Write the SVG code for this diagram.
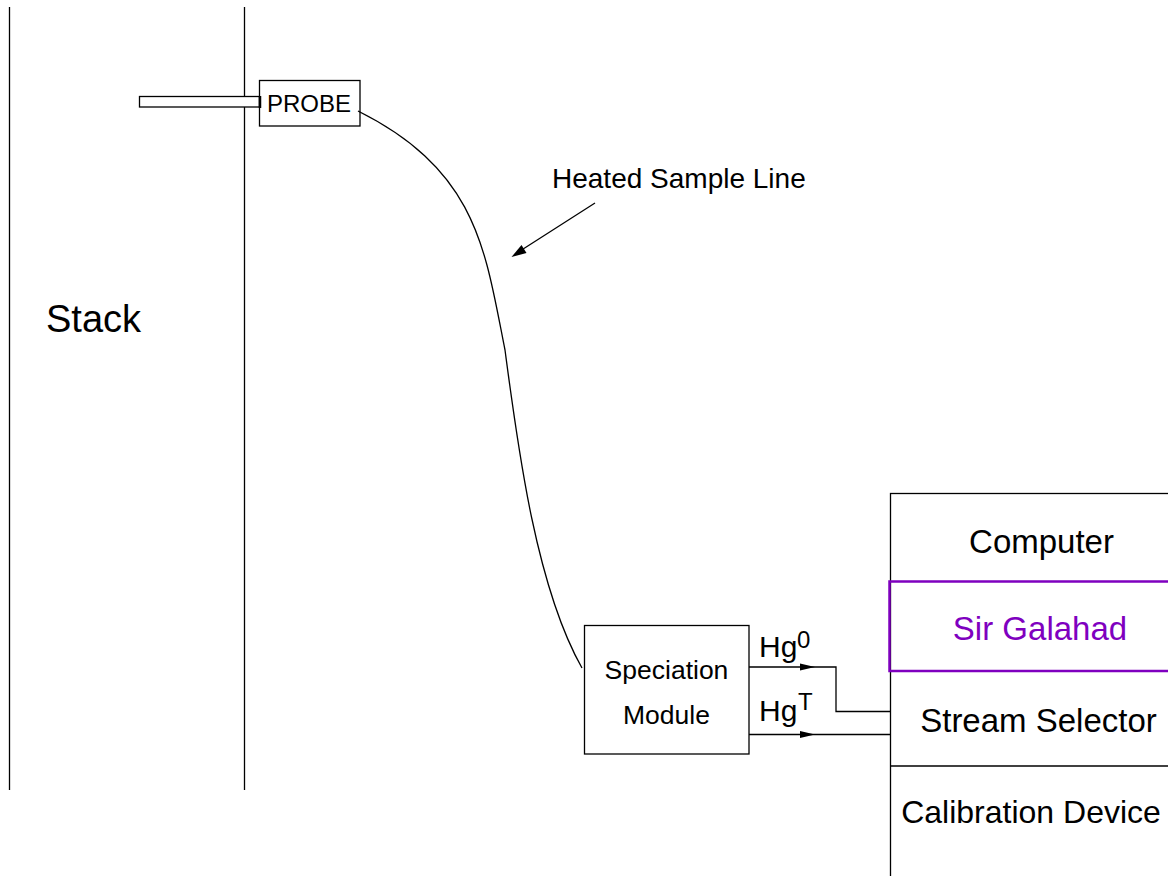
<svg xmlns="http://www.w3.org/2000/svg" width="1168" height="876" viewBox="0 0 1168 876">
<style>
.ln{fill:none;stroke:#000;stroke-width:1.3}
.bx{fill:#fff;stroke:#000;stroke-width:1.3}
.t{font-family:"Liberation Sans",Arial,sans-serif;fill:#000}
.ah{fill:#000;stroke:none}
</style>
<rect width="1168" height="876" fill="#fff"/>
<g id="stack">
<line class="ln" x1="9.5" y1="7" x2="9.5" y2="790"/>
<line class="ln" x1="244.5" y1="7" x2="244.5" y2="790"/>
<text class="t" x="46" y="332" font-size="38">Stack</text>
</g>
<g id="probe">
<rect class="bx" x="139.5" y="96.5" width="120" height="10.5"/>
<rect class="bx" x="259.5" y="80.5" width="100.5" height="45.5"/>
<line x1="260" y1="96" x2="260" y2="108" stroke="#000" stroke-width="2.5"/>
<text class="t" x="309" y="112" font-size="24" text-anchor="middle">PROBE</text>
</g>
<g id="heated-label">
<text class="t" x="552" y="188" font-size="28">Heated Sample Line</text>
</g>
<g id="speciation">
<rect class="bx" x="584.5" y="625.5" width="164.5" height="128.5"/>
<text class="t" x="666.5" y="679" font-size="26.5" text-anchor="middle">Speciation</text>
<text class="t" x="666.5" y="724" font-size="26.5" text-anchor="middle">Module</text>
</g>
<g id="analyzer">
<rect class="bx" x="890.5" y="493.5" width="320" height="420"/>
<line class="ln" x1="890.5" y1="766" x2="1168" y2="766"/>
<rect x="889.5" y="581.5" width="300" height="89.5" fill="none" stroke="#7F00BF" stroke-width="2.5"/>
<text class="t" x="1041.5" y="553" font-size="33" text-anchor="middle">Computer</text>
<text class="t" x="1040" y="640" font-size="33" text-anchor="middle" style="fill:#7F00BF">Sir Galahad</text>
<text class="t" x="1038.5" y="732" font-size="33" text-anchor="middle">Stream Selector</text>
<text class="t" x="1031" y="823" font-size="32" text-anchor="middle">Calibration Device</text>
</g>
<g id="connectors">
<path class="ln" d="M358,111 C478,171 485,250 505,350 C517,440 535,585 582,668"/>
<line class="ln" x1="595" y1="203" x2="520" y2="251"/>
<polygon class="ah" points="511.5,257 521.5,245 526.5,253"/>
<path class="ln" d="M749,667 H836 V711.5 H890"/>
<polygon class="ah" points="815,667 800,663.5 800,670.5"/>
<path class="ln" d="M749,734.5 H891"/>
<polygon class="ah" points="815,734.5 800,731 800,738"/>
<text class="t" x="759" y="657" font-size="30">Hg</text>
<text class="t" x="797" y="648" font-size="24">0</text>
<text class="t" x="759" y="721" font-size="30">Hg</text>
<text class="t" x="798" y="710" font-size="24">T</text>
</g>
</svg>
